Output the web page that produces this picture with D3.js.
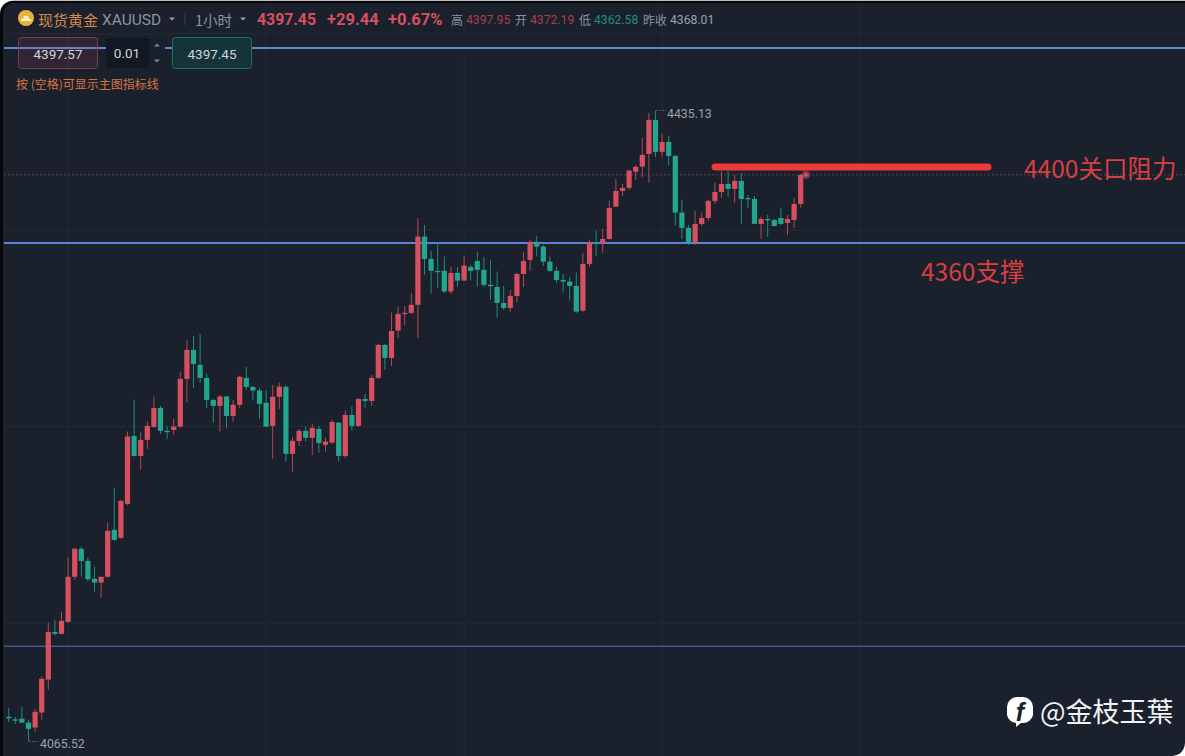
<!DOCTYPE html>
<html><head><meta charset="utf-8">
<script src="https://cdn.jsdelivr.net/npm/d3@7"></script>
<style>
html,body{margin:0;padding:0;background:#fff;overflow:hidden}
text{font-family:"Noto Sans CJK SC","Noto Sans",sans-serif}
</style></head><body>
<svg id="c" width="1185" height="756"></svg>
<script>
const opens=[4080,4078.5,4078.8,4076.6,4073.7,4082.5,4101.8,4129.7,4128.6,4135.6,4162,4178.4,4171.3,4160.8,4158.6,4162,4189.5,4184.8,4204.7,4244.5,4232.8,4242.2,4249.8,4260.9,4247.5,4248,4250,4277.9,4294.9,4286.1,4278.5,4265.6,4262.1,4267.6,4256.2,4262.7,4278.5,4273.2,4271.1,4263.9,4250.4,4267.4,4273.2,4234,4241.6,4247.5,4243.4,4248.6,4239.3,4240.6,4252.3,4232.8,4256.8,4250.4,4266.2,4265,4278.5,4297.8,4290.2,4306.2,4316,4316.6,4321.3,4361.3,4348.2,4341.2,4341.2,4329.1,4340,4335.5,4343.5,4347,4341.8,4333,4331.8,4322.4,4319.5,4326.5,4339.4,4347.6,4358.2,4355.4,4346.6,4341.2,4335.9,4334.9,4332.4,4317.9,4345.3,4357.8,4357.6,4359.9,4378.8,4388,4389.8,4399.3,4402.3,4409.7,4429.6,4410.9,4416.7,4408.5,4375.3,4366.4,4357.8,4368.7,4372.2,4382.2,4387.4,4392.1,4389.2,4393.9,4383.9,4383.3,4368.7,4371.6,4371,4372.2,4369.3,4371,4380.4];
const closes=[4079.1,4077.9,4076.6,4072.9,4082.9,4102.2,4129.7,4128.6,4136.2,4162,4178.4,4171.3,4160.6,4158.6,4162,4188.9,4183.6,4206.5,4244.2,4232.8,4242.2,4250.4,4260.9,4247.5,4246.9,4250,4277.9,4294.9,4286.7,4278.5,4265.6,4262.1,4267.6,4256.2,4262.7,4279.1,4273.2,4271.1,4263.3,4250,4267.4,4273.4,4234,4241.6,4247.5,4243.4,4249.2,4240.4,4241.2,4252.7,4232.8,4256.8,4250.4,4266.2,4265,4278.5,4297.8,4290.2,4306,4316,4316.6,4321.3,4361.3,4348.2,4341.2,4340.6,4329.1,4340,4335.5,4344.3,4341.2,4341.8,4333,4332.4,4322.4,4319.5,4326.5,4339.4,4347,4358.2,4355.4,4346.6,4341.2,4335.9,4334.9,4332.4,4317.3,4345.3,4357.8,4357,4359.9,4378.1,4388,4389.8,4399.9,4402.1,4409.1,4429.6,4410.9,4416.7,4408.5,4375.3,4366.4,4357.8,4368.7,4372.2,4382.2,4387.4,4392.1,4389.2,4393.9,4383.3,4383.3,4368.7,4371.6,4371,4367.5,4368.7,4371.6,4380.4,4397.45];
const highs=[4085.2,4079.9,4085.8,4078.2,4084.6,4103.6,4135.2,4136.8,4141.6,4173.7,4178.9,4179.7,4173.1,4168,4162,4193.6,4214.1,4207,4247.1,4265.6,4247.1,4252.9,4267.6,4262.1,4250.4,4254.5,4282.2,4300.8,4303.1,4304.3,4280.9,4266.2,4268.5,4268,4265.6,4279.7,4284.9,4273.8,4272.8,4271.1,4274.4,4275.8,4274.4,4243.9,4248.6,4250,4251.6,4250.4,4243.5,4253.9,4252.7,4259.4,4261.7,4266.4,4269.1,4280.3,4298.4,4298.4,4316.8,4320.3,4320.7,4328.3,4372.2,4368.1,4353.1,4357.6,4349.6,4343.5,4343.5,4350,4344.7,4352.5,4349.4,4347.6,4340.8,4332.4,4330,4340,4352.5,4359.3,4361.7,4356.4,4349.6,4343.7,4339.4,4337.7,4340.2,4351.7,4359.3,4364.8,4365.8,4382.4,4395.1,4392.1,4400.3,4403.3,4419.2,4433.7,4435.13,4421.4,4420.2,4409.1,4382.8,4368.1,4376.3,4375.3,4382.8,4392.7,4399.3,4399.9,4397.4,4398.6,4385.7,4385.1,4373,4374,4371.6,4378.1,4374,4383.9,4397.95];
const lows=[4077,4075.9,4076.4,4065.52,4071.3,4078.2,4095.8,4127.4,4128.2,4135.2,4160.2,4162.1,4159.2,4153.2,4149.7,4161.5,4183,4184.2,4204.1,4232.4,4224.6,4236.9,4249.2,4245.7,4242.8,4245.1,4249.2,4264,4272.6,4275.6,4260.9,4252.1,4247.1,4249.2,4252.9,4260.9,4271.5,4265.2,4254.5,4249.8,4231.1,4260.3,4229.5,4223.6,4238.7,4241.2,4233.4,4234.6,4235.3,4239.9,4229.5,4231.6,4247.6,4249.8,4260.9,4262.1,4277.9,4283.2,4285.5,4301.9,4309.5,4316,4301.9,4338.8,4327.7,4331.2,4328.3,4327.7,4331.8,4335.3,4335.5,4331.8,4331.8,4324.2,4313.6,4318.3,4317.3,4322.6,4331.8,4341.3,4349.6,4344.1,4340.8,4334.3,4328.5,4323.8,4316.6,4317.3,4343.5,4350,4351.7,4359.3,4378.7,4385.1,4388.6,4394.5,4396.2,4392.9,4407.9,4408.1,4402.7,4367.5,4359.9,4356.4,4356.4,4367.5,4370.6,4380.4,4383.9,4384.5,4381,4368.7,4378.1,4368.7,4359.9,4361.1,4367.1,4368.1,4362.3,4366.4,4378.3];
const gridPrices=[4480,4365,4250,4135,4020];
const gridIndexes=[9,39,69,99,129];
const levelPrices=[4471.7,4357.5,4121.3];
const levelStyles=[["#5f86dd",2],["#5f7fd8",2],["#46598f",1.6]];
const lastPrice=4397.45, resistancePrice=4402;

const W=1185,H=756;
const RED="#d8505f",GREEN="#22a68e";
const y=d3.scaleLinear().domain([4065.52,4435.13]).range([741.5,110.5]);
const x=d3.scaleLinear().domain([0,120]).range([8.7,800.7]);
const svg=d3.select("#c");
const T=(s,px,py,size,fill,o={})=>svg.append("text").attr("x",px).attr("y",py).attr("font-size",size).attr("fill",fill)
  .attr("dominant-baseline","central").attr("text-anchor",o.a||"start").attr("font-weight",o.w||400)
  .style("font-family",o.f||null).text(s);

// frame
svg.append("rect").attr("width",W).attr("height",H).attr("fill","#fff");
svg.append("rect").attr("x",0).attr("y",0.8).attr("width",W+14).attr("height",H+14).attr("rx",13).attr("fill","#05070a");
svg.append("rect").attr("x",3).attr("y",3).attr("width",W+10).attr("height",H+10).attr("rx",11).attr("fill","#1a212d");
svg.append("path").attr("d",`M${W-13} ${H}L${W} ${H}L${W} ${H-13}Q${W-1} ${H-1} ${W-13} ${H}Z`).attr("fill","#fff");

// grid
svg.append("g").selectAll("line").data(gridPrices.filter(p=>y(p)<H)).join("line")
 .attr("x1",4).attr("x2",W).attr("y1",d=>y(d)).attr("y2",d=>y(d)).attr("stroke","#252c38").attr("stroke-width",1);
svg.append("g").selectAll("line").data(gridIndexes).join("line")
 .attr("x1",d=>x(d)).attr("x2",d=>x(d)).attr("y1",4).attr("y2",H).attr("stroke","#232a36").attr("stroke-width",1);

// last price dotted
svg.append("line").attr("x1",4).attr("x2",W).attr("y1",y(lastPrice)).attr("y2",y(lastPrice))
 .attr("stroke","#54424e").attr("stroke-width",1).attr("stroke-dasharray","2 2");

// levels
svg.append("g").selectAll("line").data(levelPrices).join("line")
 .attr("x1",4).attr("x2",W).attr("y1",d=>y(d)).attr("y2",d=>y(d))
 .attr("stroke",(d,i)=>levelStyles[i][0]).attr("stroke-width",(d,i)=>levelStyles[i][1]);

// candles
const idx=d3.range(opens.length);
const col=i=>closes[i]>=opens[i]?RED:GREEN;
const g=svg.append("g");
g.selectAll("line").data(idx).join("line")
 .attr("x1",i=>x(i)).attr("x2",i=>x(i)).attr("y1",i=>y(highs[i])).attr("y2",i=>y(lows[i]))
 .attr("stroke",col).attr("stroke-width",1).attr("stroke-opacity",.8);
g.selectAll("rect").data(idx).join("rect")
 .attr("x",i=>x(i)-2.6).attr("width",5.2)
 .attr("y",i=>y(Math.max(opens[i],closes[i])))
 .attr("height",i=>Math.max(1.3,Math.abs(y(opens[i])-y(closes[i]))))
 .attr("fill",col);

// high / low labels
svg.append("line").attr("x1",x(98)+1).attr("x2",666).attr("y1",y(4435.13)).attr("y2",y(4435.13)).attr("stroke","#8a919b").attr("stroke-dasharray","1 2");
T("4435.13",667,114,12.3,"#9ba1a9",{f:"Roboto"});
svg.append("line").attr("x1",x(3)+1).attr("x2",39).attr("y1",y(4065.52)).attr("y2",y(4065.52)).attr("stroke","#8a919b").attr("stroke-dasharray","1 2");
T("4065.52",40,744,12.3,"#9ba1a9",{f:"Roboto"});

// annotations
svg.append("line").attr("x1",715).attr("x2",988).attr("y1",y(resistancePrice)).attr("y2",y(resistancePrice))
 .attr("stroke","#ef3a3a").attr("stroke-width",7).attr("stroke-linecap","round");
svg.append("circle").attr("cx",806).attr("cy",y(lastPrice)).attr("r",4).attr("fill","#e0566a").attr("opacity",.5);
svg.append("circle").attr("cx",806).attr("cy",y(lastPrice)).attr("r",1.8).attr("fill","#e0566a");
T("4400关口阻力",1024,167,24.5,"#d93f40");
T("4360支撑",921,270,24.5,"#d93f40");

// header
svg.append("circle").attr("cx",26).attr("cy",18).attr("r",8).attr("fill","#e9b23f");
svg.append("path").attr("d","M21 21h10v-2h-2l-1-3h-4l-1 3h-2z").attr("fill","#fff3cf");
T("现货黄金",38,19,15,"#d98a4a");
T("XAUUSD",102,19.5,15.5,"#8b939e",{f:"Roboto"});
svg.append("path").attr("d","M169 17.5h6l-3 3z").attr("fill","#9aa1ab");
svg.append("line").attr("x1",185).attr("x2",185).attr("y1",13).attr("y2",25).attr("stroke","#3c4450");
T("1小时",195,19,14.5,"#8b939e");
svg.append("path").attr("d","M240 17.5h6l-3 3z").attr("fill","#9aa1ab");
T("4397.45",257,19,15.8,RED,{w:700,f:"Roboto"});
T("+29.44",327,19,16.5,RED,{w:700,f:"Roboto"});
T("+0.67%",388,19,16.5,RED,{w:700,f:"Roboto"});
T("高",451,19.5,12,"#8b939e");
T("4397.95",466,19.5,12.2,"#a83f52",{f:"Roboto"});
T("开",515,19.5,12,"#8b939e");
T("4372.19",530,19.5,12.2,"#a83f52",{f:"Roboto"});
T("低",579,19.5,12,"#8b939e");
T("4362.58",594,19.5,12.2,"#1f8f7c",{f:"Roboto"});
T("昨收",643,19.5,12,"#8b939e");
T("4368.01",670,19.5,12.2,"#9ba1a9",{f:"Roboto"});

// order widgets
svg.append("rect").attr("x",18.5).attr("y",37.5).attr("width",79).attr("height",31).attr("rx",3).attr("fill","#d9475f").attr("fill-opacity",.13).attr("stroke","#7a3f4c");
T("4397.57",58,54,13.5,"#cfd3d8",{a:"middle",f:"Roboto"});
svg.append("rect").attr("x",106).attr("y",38).attr("width",43).attr("height",30).attr("rx",2).attr("fill","#121822");
T("0.01",127,53,13.5,"#cfd3d8",{a:"middle",f:"Roboto"});
svg.append("rect").attr("x",149).attr("y",38).attr("width",16).attr("height",30).attr("fill","#1a212d");
svg.append("path").attr("d","M154 46.5l3-3 3 3zM154 59.5l3 3 3-3z").attr("fill","#7d858f");
svg.append("rect").attr("x",172.5).attr("y",37.5).attr("width",79).attr("height",31).attr("rx",3).attr("fill","#15343a").attr("stroke","#1c6e66");
T("4397.45",212,54,13.5,"#cfd3d8",{a:"middle",f:"Roboto"});
T("按 (空格)可显示主图指标线",16,83,12,"#d9743f");

// watermark
svg.append("path").attr("d","M1017 697h6a10 10 0 0 1 10 10v8a10 10 0 0 1-10 8h-2l-5 4 0-4a10 10 0 0 1-9-8v-8a10 10 0 0 1 10-10z").attr("fill","#fff");
T("f",1020,712,25,"#1a212d",{a:"middle",w:700,f:"Liberation Sans"}).style("font-style","italic");
T("@金枝玉葉",1040,710,27,"#f2f3f4",{f:"Noto Sans CJK TC"});
</script>
</body></html>
